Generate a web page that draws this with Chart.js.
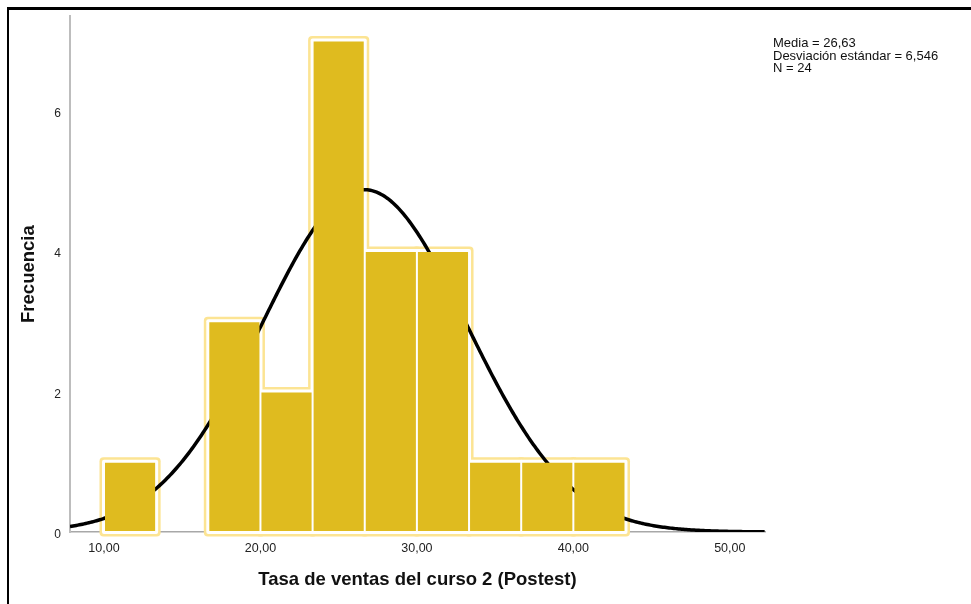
<!DOCTYPE html>
<html>
<head>
<meta charset="utf-8">
<script src="https://cdn.jsdelivr.net/npm/chart.js@4"></script>
<style>
  html, body { margin: 0; padding: 0; background: #fff; }
  #wrap { position: relative; width: 971px; height: 604px; overflow: hidden; }
  #frame { position: absolute; left: 7px; top: 7px; right: -10px; bottom: -10px; border-top: 3px solid #000; border-left: 2px solid #000; pointer-events: none; }
</style>
</head>
<body>
<div id="wrap">
  <canvas id="histChart" width="971" height="604"></canvas>
  <div id="frame"></div>
</div>
<script>
// histogram bins (edges) and counts per bin
const binEdges = [10, 13.333, 16.667, 20, 23.333, 26.667, 30, 33.333, 36.667, 40, 43.333];
const frequencies = [1, 0, 3, 2, 7, 4, 4, 1, 1, 1];
const xTicks = [10, 20, 30, 40, 50];
const yTicks = [0, 2, 4, 6];

// summary statistics shown in the corner
const statMean = 26.63;
const statStdDev = 6.546;
const statN = 24;
const statLines = ['Media = 26,63', 'Desviación estándar = 6,546', 'N = 24'];

const xMin = 7.827, xMax = 52.25;
const yMax = 7.345;

const barData = frequencies.map((f, i) => ({
  x: (binEdges[i] + binEdges[i + 1]) / 2,
  y: f === 0 ? null : f
}));

// fitted normal curve, scaled to counts (N * bin width)
const binWidth = binEdges[1] - binEdges[0];
const curveData = [];
for (let x = xMin; x <= xMax + 0.001; x += 0.1) {
  const z = (x - statMean) / statStdDev;
  const dens = Math.exp(-0.5 * z * z) / (statStdDev * Math.sqrt(2 * Math.PI));
  curveData.push({ x: x, y: dens * statN * binWidth });
}

const fmt = v => v.toFixed(2).replace('.', ',');

Chart.defaults.font.family = "'Liberation Sans', Arial, sans-serif";

const barBase = {
  type: 'bar',
  data: barData,
  grouped: false,
  barPercentage: 1,
  categoryPercentage: 1,
  borderWidth: 0,
  borderSkipped: false,
  clip: false
};

const statsText = {
  id: 'statsText',
  afterDraw(chart) {
    const ctx = chart.ctx;
    ctx.save();
    ctx.font = "13px 'Liberation Sans', Arial, sans-serif";
    ctx.fillStyle = '#111';
    ctx.textBaseline = 'alphabetic';
    statLines.forEach((t, i) => ctx.fillText(t, 773, 47 + i * 12.5));
    ctx.restore();
  }
};

new Chart(document.getElementById('histChart'), {
  type: 'bar',
  data: {
    datasets: [
      // pale outline around the bars
      Object.assign({}, barBase, { backgroundColor: '#fce493', inflateAmount: 4.5, borderRadius: 4, order: 3 }),
      // white gap between outline and fill
      Object.assign({}, barBase, { backgroundColor: '#ffffff', inflateAmount: 2, borderRadius: 2, order: 2 }),
      {
        type: 'line',
        data: curveData,
        borderColor: '#000',
        borderWidth: 3.5,
        pointRadius: 0,
        tension: 0,
        order: 1
      },
      Object.assign({}, barBase, { backgroundColor: '#dfbb1f', inflateAmount: -1, order: 0 })
    ]
  },
  options: {
    responsive: false,
    animation: false,
    layout: { padding: { left: 0, top: 12, right: 206, bottom: 0 } },
    plugins: { legend: { display: false }, tooltip: { enabled: false } },
    scales: {
      x: {
        type: 'linear',
        min: xMin,
        max: xMax,
        offset: false,
        afterBuildTicks: s => { s.ticks = xTicks.map(v => ({ value: v })); },
        afterFit: s => { s.height = 72; },
        grid: { display: false, drawTicks: false },
        border: { display: true, color: '#a8a8a8', width: 1.5 },
        ticks: { padding: 9, color: '#222', font: { size: 12.5 }, callback: v => fmt(v), maxRotation: 0 },
        title: {
          display: true,
          text: 'Tasa de ventas del curso 2 (Postest)',
          color: '#111',
          font: { size: 18.5, weight: 'bold' },
          padding: { top: 0, bottom: 13 }
        }
      },
      y: {
        min: 0,
        max: yMax,
        afterBuildTicks: s => { s.ticks = yTicks.map(v => ({ value: v })); },
        afterFit: s => { s.width = 70; },
        grid: { display: false, drawTicks: false },
        border: { display: true, color: '#bdbdbd', width: 2 },
        ticks: { padding: 9, labelOffset: 3, color: '#222', font: { size: 12 } },
        title: {
          display: true,
          text: 'Frecuencia',
          color: '#111',
          font: { size: 18.5, weight: 'bold' },
          padding: { top: 18, bottom: 0 }
        }
      }
    }
  },
  plugins: [statsText]
});
</script>
</body>
</html>
